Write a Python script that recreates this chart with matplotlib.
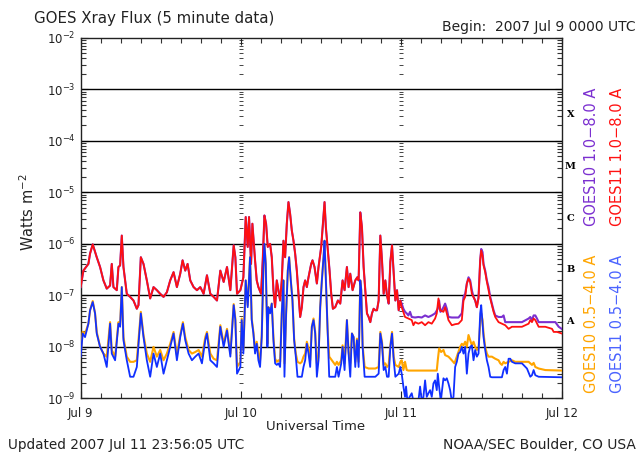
import matplotlib
matplotlib.use("Agg")
import matplotlib.pyplot as plt
import numpy as np
from matplotlib.ticker import FixedLocator, NullFormatter

# hours since 2007 Jul 9 00:00 UTC, flux as log10(W m^-2)
long_hours = [
    0, 0.4, 1.15, 1.4, 1.8, 2.4, 2.9, 3.4, 3.9, 4.4, 4.65, 4.9, 5.4, 5.65, 5.9, 6.15,
    6.4, 6.9, 7.4, 7.9, 8.4, 8.65, 9.0, 9.4, 9.9, 10.4, 10.9, 11.4, 11.9, 12.4, 12.9,
    13.4, 13.9, 14.4, 14.9, 15.25, 15.65, 16.0, 16.4, 16.9, 17.4, 17.9, 18.4, 18.9,
    19.4, 19.9, 20.4, 20.9, 21.4, 21.9, 22.4, 22.9, 23.15, 23.4, 23.9,
    24.35, 24.7, 25.0, 25.2, 25.5, 25.7, 26.1, 26.35, 26.6, 27.0, 27.25, 27.5, 27.75,
    28.0, 28.35, 28.6, 28.85, 29.1, 29.35, 29.6, 29.85, 30.1, 30.35, 30.6, 30.85,
    31.1, 31.35, 31.6, 31.85, 32.1, 32.35, 32.6, 32.85, 33.1, 33.35, 33.6, 33.85,
    34.1, 34.5, 34.7, 35.0, 35.35, 35.6, 36.0, 36.25, 36.5, 36.7, 37.0, 37.25, 37.5,
    37.75, 38.1, 38.5, 38.85, 39.2, 39.5, 39.85, 40.1, 40.35, 40.7, 41.1, 41.4, 41.6,
    41.85, 42.1, 42.35, 42.6, 42.85, 43.1, 43.35, 43.6, 43.85, 44.1, 44.35, 44.6,
    44.85, 45.1, 45.35, 45.6, 45.85, 46.1, 46.35, 46.6, 46.85, 47.1, 47.35, 47.6, 47.85,
]
g11_long_lg = [
    -6.84, -6.52, -6.39, -6.19, -6.01, -6.26, -6.45, -6.71, -6.87, -6.81, -6.39, -6.84,
    -6.90, -6.45, -6.42, -5.84, -6.45, -6.97, -7.03, -7.10, -7.26, -7.19, -6.26, -6.39,
    -6.71, -7.06, -6.84, -6.90, -6.97, -7.03, -6.94, -6.71, -6.55, -6.84, -6.58, -6.32,
    -6.52, -6.39, -6.71, -6.84, -6.90, -6.84, -6.97, -6.61, -6.97, -7.03, -7.10, -6.52,
    -6.74, -6.45, -6.90, -6.03, -6.26, -6.97, -6.90,
    -6.65, -5.48, -6.06, -5.48, -6.39, -5.61, -6.32, -6.71, -6.84, -6.97, -6.32, -5.45,
    -5.61, -6.06, -6.00, -6.26, -6.90, -7.23, -6.71, -6.90, -7.10, -6.71, -5.94, -6.26,
    -5.61, -5.19, -5.42, -5.74, -5.94, -6.19, -6.52, -6.97, -7.42, -7.23, -6.84, -6.71,
    -6.84, -6.65, -6.39, -6.32, -6.45, -6.77, -6.45, -6.06, -5.61, -5.19, -5.68, -6.13,
    -6.52, -6.97, -7.26, -7.23, -7.10, -7.16, -6.71, -6.90, -6.45, -6.84, -6.58, -6.90,
    -6.71, -6.65, -6.71, -5.39, -5.68, -6.45, -6.90, -7.35, -7.42, -7.52, -7.35, -7.26,
    -7.29, -7.29, -7.10, -5.84, -6.32, -6.97, -6.71, -7.00, -7.16, -6.35, -6.03, -6.58,
    -7.10, -6.90, -7.29, -7.10,
]

# Jul 11, where the two long channels separate
g10_long_day3_hours = [
    48.05, 48.3, 48.55, 48.8, 49.05, 49.3, 49.55, 50.05, 50.55, 51.05, 51.55, 52.05,
    52.55, 53.05, 53.45, 53.65, 53.85, 54.05, 54.3, 54.55, 54.8, 55.05, 55.55, 56.55,
    57.05, 57.3, 57.55, 57.8, 58.05, 58.3, 58.55, 58.8, 59.05, 59.3, 59.55, 59.8, 59.95,
    60.15, 60.3, 60.55, 60.8, 61.05, 61.3, 61.55, 61.8, 62.05, 62.55, 63.05, 63.3, 63.55,
    64.55, 66.05, 67.05, 67.3, 67.55, 67.8, 68.05, 68.3, 68.55, 71.05, 71.55, 72.0,
]
g10_long_day3_lg = [
    -7.16, -7.26, -7.32, -7.35, -7.39, -7.32, -7.42, -7.43, -7.42, -7.43, -7.39, -7.42,
    -7.39, -7.35, -7.26, -7.10, -7.32, -7.29, -7.23, -7.16, -7.26, -7.42, -7.43, -7.43,
    -7.35, -7.03, -6.97, -6.77, -6.65, -6.71, -6.90, -7.03, -7.10, -7.23, -7.03, -6.32,
    -6.10, -6.16, -6.39, -6.52, -6.71, -6.84, -7.03, -7.16, -7.29, -7.39, -7.42, -7.42,
    -7.39, -7.52, -7.52, -7.52, -7.45, -7.42, -7.48, -7.39, -7.39, -7.45, -7.52, -7.52,
    -7.61, -7.65,
]
g11_long_day3_hours = [
    48.05, 48.55, 49.05, 49.55, 49.8, 50.05, 50.55, 51.05, 51.55, 52.05, 52.55, 53.05,
    53.3, 53.55, 53.8, 54.3, 54.55, 54.8, 55.05, 55.55, 56.05, 56.55, 57.05, 57.3, 57.55,
    57.8, 58.05, 58.3, 58.55, 59.05, 59.3, 59.55, 59.8, 59.95, 60.15, 60.3, 60.55, 60.8,
    61.05, 61.3, 61.55, 61.8, 62.05, 62.55, 63.05, 63.55, 64.05, 64.55, 66.05, 67.05,
    67.3, 67.55, 67.8, 68.05, 68.55, 69.55, 70.55, 70.8, 71.3, 72.0,
]
g11_long_day3_lg = [
    -7.23, -7.42, -7.45, -7.48, -7.58, -7.52, -7.55, -7.52, -7.58, -7.52, -7.55, -7.45,
    -7.35, -7.06, -7.29, -7.32, -7.23, -7.35, -7.48, -7.58, -7.56, -7.55, -7.48, -7.10,
    -7.03, -6.77, -6.68, -6.74, -6.97, -7.10, -7.23, -7.06, -6.32, -6.13, -6.23, -6.42,
    -6.55, -6.74, -6.90, -7.06, -7.19, -7.32, -7.42, -7.52, -7.55, -7.58, -7.65, -7.61,
    -7.61, -7.55, -7.48, -7.52, -7.45, -7.48, -7.61, -7.61, -7.65, -7.71, -7.71, -7.74,
]

short_hours = [
    0, 0.3, 0.65, 1.15, 1.4, 1.8, 2.15, 2.4, 2.9, 3.4, 3.9, 4.4, 4.65, 5.15, 5.65, 5.9,
    6.15, 6.4, 6.9, 7.4, 7.9, 8.4, 9.0, 9.4, 9.9, 10.4, 10.9, 11.4, 11.9, 12.4, 12.9,
    13.4, 13.9, 14.4, 14.9, 15.3, 15.65, 16.15, 16.65, 17.15, 17.65, 18.15, 18.65, 18.9,
    19.4, 19.9, 20.4, 20.9, 21.4, 21.9, 22.4, 22.9, 23.15, 23.4, 23.9,
    24.1, 24.35, 24.7, 25.0, 25.35, 25.6, 25.85, 26.1, 26.35, 26.6, 26.85, 27.1, 27.35,
    27.5, 27.7, 27.95, 28.1, 28.35, 28.6, 28.85, 29.1, 29.35, 29.6, 29.85, 30.1, 30.35,
    30.5, 30.75, 31.0, 31.2, 31.45, 31.7, 31.95, 32.2, 32.45, 32.85, 33.1, 33.35, 33.6,
    33.85, 34.1, 34.35, 34.6, 34.85, 35.1, 35.35, 35.6, 35.85, 36.1, 36.35, 36.5, 36.7,
    36.95, 37.2, 37.6, 38.1, 38.35, 38.6, 39.0, 39.2, 39.5, 39.85, 40.1, 40.35, 40.6,
    40.85, 41.1, 41.35, 41.6, 41.85, 42.0, 42.2, 42.5, 43.1, 43.6, 44.1, 44.6, 44.85,
    45.1, 45.35, 45.6, 45.85, 46.1, 46.35, 46.6, 46.85, 47.1, 47.6, 47.85,
]
g11_short_lg = [
    -8.19, -7.74, -7.81, -7.55, -7.29, -7.13, -7.35, -7.74, -8.00, -8.13, -8.39, -7.55,
    -8.13, -8.26, -7.55, -7.61, -6.84, -7.87, -8.26, -8.58, -8.58, -8.39, -7.35, -7.81,
    -8.26, -8.58, -8.13, -8.39, -8.13, -8.52, -8.26, -8.00, -7.74, -8.26, -7.81, -7.55,
    -7.87, -8.13, -8.26, -8.19, -8.13, -8.32, -7.87, -7.74, -8.26, -8.32, -8.39, -7.61,
    -8.00, -7.68, -8.19, -7.19, -7.48, -8.52, -8.39,
    -7.48, -8.13, -6.71, -7.23, -6.26, -7.48, -7.74, -8.13, -7.94, -8.26, -8.39, -7.81,
    -6.45, -6.00, -6.39, -8.00, -7.23, -7.35, -7.16, -7.87, -8.32, -8.35, -8.32, -8.39,
    -7.35, -6.71, -8.58, -7.35, -6.52, -6.26, -6.71, -7.10, -7.87, -8.19, -8.58, -8.58,
    -8.58, -8.39, -8.26, -7.94, -8.13, -8.39, -7.61, -7.48, -7.74, -8.58, -8.26, -7.23,
    -6.71, -6.26, -5.94, -6.71, -7.68, -8.58, -8.58, -8.58, -8.39, -8.58, -8.32, -8.00,
    -8.45, -7.48, -8.13, -8.58, -7.74, -7.81, -8.39, -7.87, -8.39, -6.71, -6.90, -8.00,
    -8.58, -8.58, -8.58, -8.58, -8.52, -7.74, -7.94, -8.45, -8.39, -8.58, -8.58, -8.00,
    -7.74, -8.26, -8.58, -8.52, -8.39,
]
g10_short_lg = [
    -8.13, -7.71, -7.74, -7.55, -7.29, -7.11, -7.35, -7.71, -8.00, -8.13, -8.19, -7.52,
    -8.06, -8.19, -7.52, -7.58, -6.84, -7.81, -8.19, -8.29, -8.29, -8.26, -7.32, -7.77,
    -8.13, -8.29, -8.00, -8.19, -8.06, -8.26, -8.13, -7.94, -7.71, -8.16, -7.77, -7.52,
    -7.81, -8.06, -8.13, -8.10, -8.06, -8.19, -7.81, -7.71, -8.13, -8.23, -8.26, -7.58,
    -7.94, -7.65, -8.13, -7.17, -7.45, -8.39, -8.29,
    -7.45, -8.06, -6.71, -7.19, -6.26, -7.45, -7.71, -8.06, -7.90, -8.13, -8.26, -7.77,
    -6.45, -6.00, -6.39, -7.94, -7.23, -7.32, -7.16, -7.81, -8.23, -8.29, -8.26, -8.29,
    -7.35, -6.71, -8.32, -7.35, -6.52, -6.26, -6.71, -7.10, -7.84, -8.13, -8.29, -8.32,
    -8.29, -8.19, -8.13, -7.90, -8.03, -8.26, -7.61, -7.45, -7.71, -8.32, -8.19, -7.23,
    -6.71, -6.26, -5.94, -6.71, -7.65, -8.19, -8.26, -8.35, -8.29, -8.35, -8.26, -7.97,
    -8.32, -7.48, -8.10, -8.32, -7.74, -7.81, -8.29, -7.84, -8.29, -6.71, -6.90, -7.97,
    -8.39, -8.42, -8.42, -8.42, -8.39, -7.71, -7.90, -8.35, -8.32, -8.39, -8.35, -7.97,
    -7.71, -8.19, -8.35, -8.39, -8.29,
]

g10_short_day3_hours = [
    48.05, 48.3, 48.55, 48.8, 49.05, 50.55, 52.05, 53.3, 53.45, 53.65, 53.95, 54.3, 54.55,
    55.05, 55.55, 55.95, 56.3, 56.8, 57.05, 57.3, 57.55, 57.8, 58.05, 58.3, 58.55, 58.8,
    59.05, 59.3, 59.55, 59.8, 59.95, 60.15, 60.3, 60.55, 60.8, 61.05, 61.55, 62.05, 62.55,
    62.8, 63.05, 63.3, 63.55, 64.05, 64.55, 65.05, 67.05, 67.55, 67.8, 68.05, 68.55,
    69.55, 72.0,
]
g10_short_day3_lg = [
    -8.26, -8.45, -8.29, -8.45, -8.46, -8.46, -8.46, -8.46, -8.26, -8.03, -8.10, -8.06,
    -8.16, -8.19, -8.26, -8.32, -8.19, -8.00, -7.94, -7.97, -7.90, -8.00, -7.77, -7.87,
    -7.97, -7.90, -8.00, -8.06, -8.03, -7.55, -7.35, -7.48, -7.74, -8.00, -8.13, -8.19,
    -8.19, -8.23, -8.26, -8.32, -8.35, -8.29, -8.32, -8.29, -8.26, -8.29, -8.29, -8.35,
    -8.31, -8.39, -8.42, -8.45, -8.46,
]
g11_short_day3_hours = [
    48.05, 48.3, 48.55, 48.7, 48.9, 49.55, 49.8, 50.55, 50.8, 51.05, 51.3, 51.55, 51.8,
    52.05, 52.3, 52.55, 52.8, 53.05, 53.3, 53.45, 53.65, 53.9, 54.3, 54.55, 54.8, 55.05,
    55.3, 55.55, 55.8, 56.05, 56.3, 56.55, 56.8, 57.05, 57.3, 57.55, 57.8, 58.05, 58.3,
    58.55, 58.8, 59.05, 59.3, 59.55, 59.8, 59.95, 60.15, 60.3, 60.55, 60.8, 61.05, 61.3,
    61.55, 63.05, 63.3, 63.55, 63.8, 64.05, 64.3, 64.55, 65.05, 66.05, 66.8, 67.3, 67.55,
    67.8, 68.05, 68.55, 72.0,
]
g11_short_day3_lg = [
    -8.52, -8.77, -8.97, -8.77, -9.05, -8.90, -9.05, -9.05, -8.77, -9.05, -8.97, -8.65,
    -8.97, -8.90, -8.84, -8.97, -8.71, -8.65, -8.84, -8.52, -8.77, -9.05, -8.61, -8.65,
    -8.61, -8.71, -8.84, -9.05, -8.97, -8.39, -8.29, -8.13, -8.10, -8.00, -8.13, -8.00,
    -8.52, -8.13, -8.00, -7.97, -8.26, -8.06, -8.19, -8.13, -7.35, -7.19, -7.55, -7.81,
    -8.06, -8.26, -8.39, -8.58, -8.59, -8.59, -8.45, -8.39, -8.52, -8.23, -8.23, -8.29,
    -8.32, -8.32, -8.42, -8.58, -8.55, -8.45, -8.55, -8.58, -8.59,
]

day_labels = ["Jul 9", "Jul 10", "Jul 11", "Jul 12"]
class_letters = ["X", "M", "C", "B", "A"]

PURPLE = "#7b2fd0"
RED = "#ff1010"
ORANGE = "#ffa500"
BLUE = "#1030ff"
LEG_BLUE = "#4a63ff"
INK = "#222222"

fig = plt.figure(figsize=(6.42, 4.55), dpi=100)
ax = fig.add_axes([80.7 / 642, 1 - 398.4 / 455, 481 / 642, 360.7 / 455])

t_g10_long = long_hours + g10_long_day3_hours
y_g10_long = g11_long_lg + g10_long_day3_lg
t_g11_long = long_hours + g11_long_day3_hours
y_g11_long = g11_long_lg + g11_long_day3_lg
t_g10_short = short_hours + g10_short_day3_hours
y_g10_short = g10_short_lg + g10_short_day3_lg
t_g11_short = short_hours + g11_short_day3_hours
y_g11_short = g11_short_lg + g11_short_day3_lg

ax.plot(t_g10_long, 10 ** np.array(y_g10_long), color=PURPLE, lw=1.5, zorder=3)
ax.plot(t_g11_long, 10 ** np.array(y_g11_long), color=RED, lw=1.3, zorder=4)
ax.plot(t_g10_short, 10 ** np.array(y_g10_short), color=ORANGE, lw=1.5, zorder=3)
ax.plot(t_g11_short, 10 ** np.array(y_g11_short), color=BLUE, lw=1.3, zorder=4)

ax.set_yscale("log")
ax.set_ylim(1e-9, 1e-2)
ax.set_xlim(0, 72)

# decade grid
for e in range(-8, -2):
    ax.axhline(10.0 ** e, color="black", lw=1.0, zorder=2)

ax.yaxis.set_major_locator(FixedLocator([10.0 ** e for e in range(-9, -1)]))
minor_vals = [m * 10.0 ** e for e in range(-9, -2) for m in range(2, 10)]
ax.yaxis.set_minor_locator(FixedLocator(minor_vals))
ax.yaxis.set_minor_formatter(NullFormatter())
ax.set_yticklabels([r"$10^{%d}$" % e for e in range(-9, -1)])

ax.xaxis.set_major_locator(FixedLocator([0, 24, 48, 72]))
ax.xaxis.set_minor_locator(FixedLocator([h for h in range(0, 73, 3) if h % 24]))
ax.set_xticklabels(day_labels)

ax.tick_params(which="both", direction="in", top=True, right=True, color="#333333", width=0.8)
ax.tick_params(which="major", length=5, labelsize=8.5, colors=INK)
ax.tick_params(which="minor", length=3.5)
ax.tick_params(axis="x", which="major", pad=6)
for s in ax.spines.values():
    s.set_linewidth(1.0)
    s.set_color(INK)

# axis tick marks repeated at each day boundary
for d in (24, 48):
    ax.plot([d] * len(minor_vals), minor_vals, ls="none", marker="_", ms=3.5, mew=0.7, color="#444444", zorder=1)
    ax.plot([d] * 7, [10.0 ** e for e in range(-9, -2)], ls="none", marker="_", ms=5, mew=0.7, color="#444444", zorder=1)

def fx(x):
    return x / 642

def fy(y):
    return 1 - y / 455

fig.text(fx(28), fy(212), "Watts m$^{-2}$", rotation=90, fontsize=10.5, color=INK, ha="center", va="center")

for i, letter in enumerate(class_letters):
    ax.text(1.018, 10.0 ** (-3.5 - i), letter, transform=ax.get_yaxis_transform(),
            fontsize=7, fontweight="bold", family="DejaVu Serif", va="center", ha="center")

fig.text(fx(592), fy(157), "GOES10 1.0\u22128.0 A", rotation=90, color=PURPLE, fontsize=10.5, ha="center", va="center")
fig.text(fx(617), fy(157), "GOES11 1.0\u22128.0 A", rotation=90, color=RED, fontsize=10.5, ha="center", va="center")
fig.text(fx(592), fy(324), "GOES10 0.5\u22124.0 A", rotation=90, color=ORANGE, fontsize=10.5, ha="center", va="center")
fig.text(fx(617), fy(324), "GOES11 0.5\u22124.0 A", rotation=90, color=LEG_BLUE, fontsize=10.5, ha="center", va="center")

fig.text(fx(34), fy(19), "GOES Xray Flux (5 minute data)", fontsize=10.8, color=INK, ha="left", va="center")
fig.text(fx(636), fy(27), "Begin:  2007 Jul 9 0000 UTC", fontsize=10, color=INK, ha="right", va="center")
fig.text(fx(316), fy(426), "Universal Time", fontsize=9.5, color=INK, ha="center", va="center")
fig.text(fx(8), fy(445), "Updated 2007 Jul 11 23:56:05 UTC", fontsize=9.8, color=INK, ha="left", va="center")
fig.text(fx(636), fy(445), "NOAA/SEC Boulder, CO USA", fontsize=10, color=INK, ha="right", va="center")

fig.savefig("out.png", dpi=100)
